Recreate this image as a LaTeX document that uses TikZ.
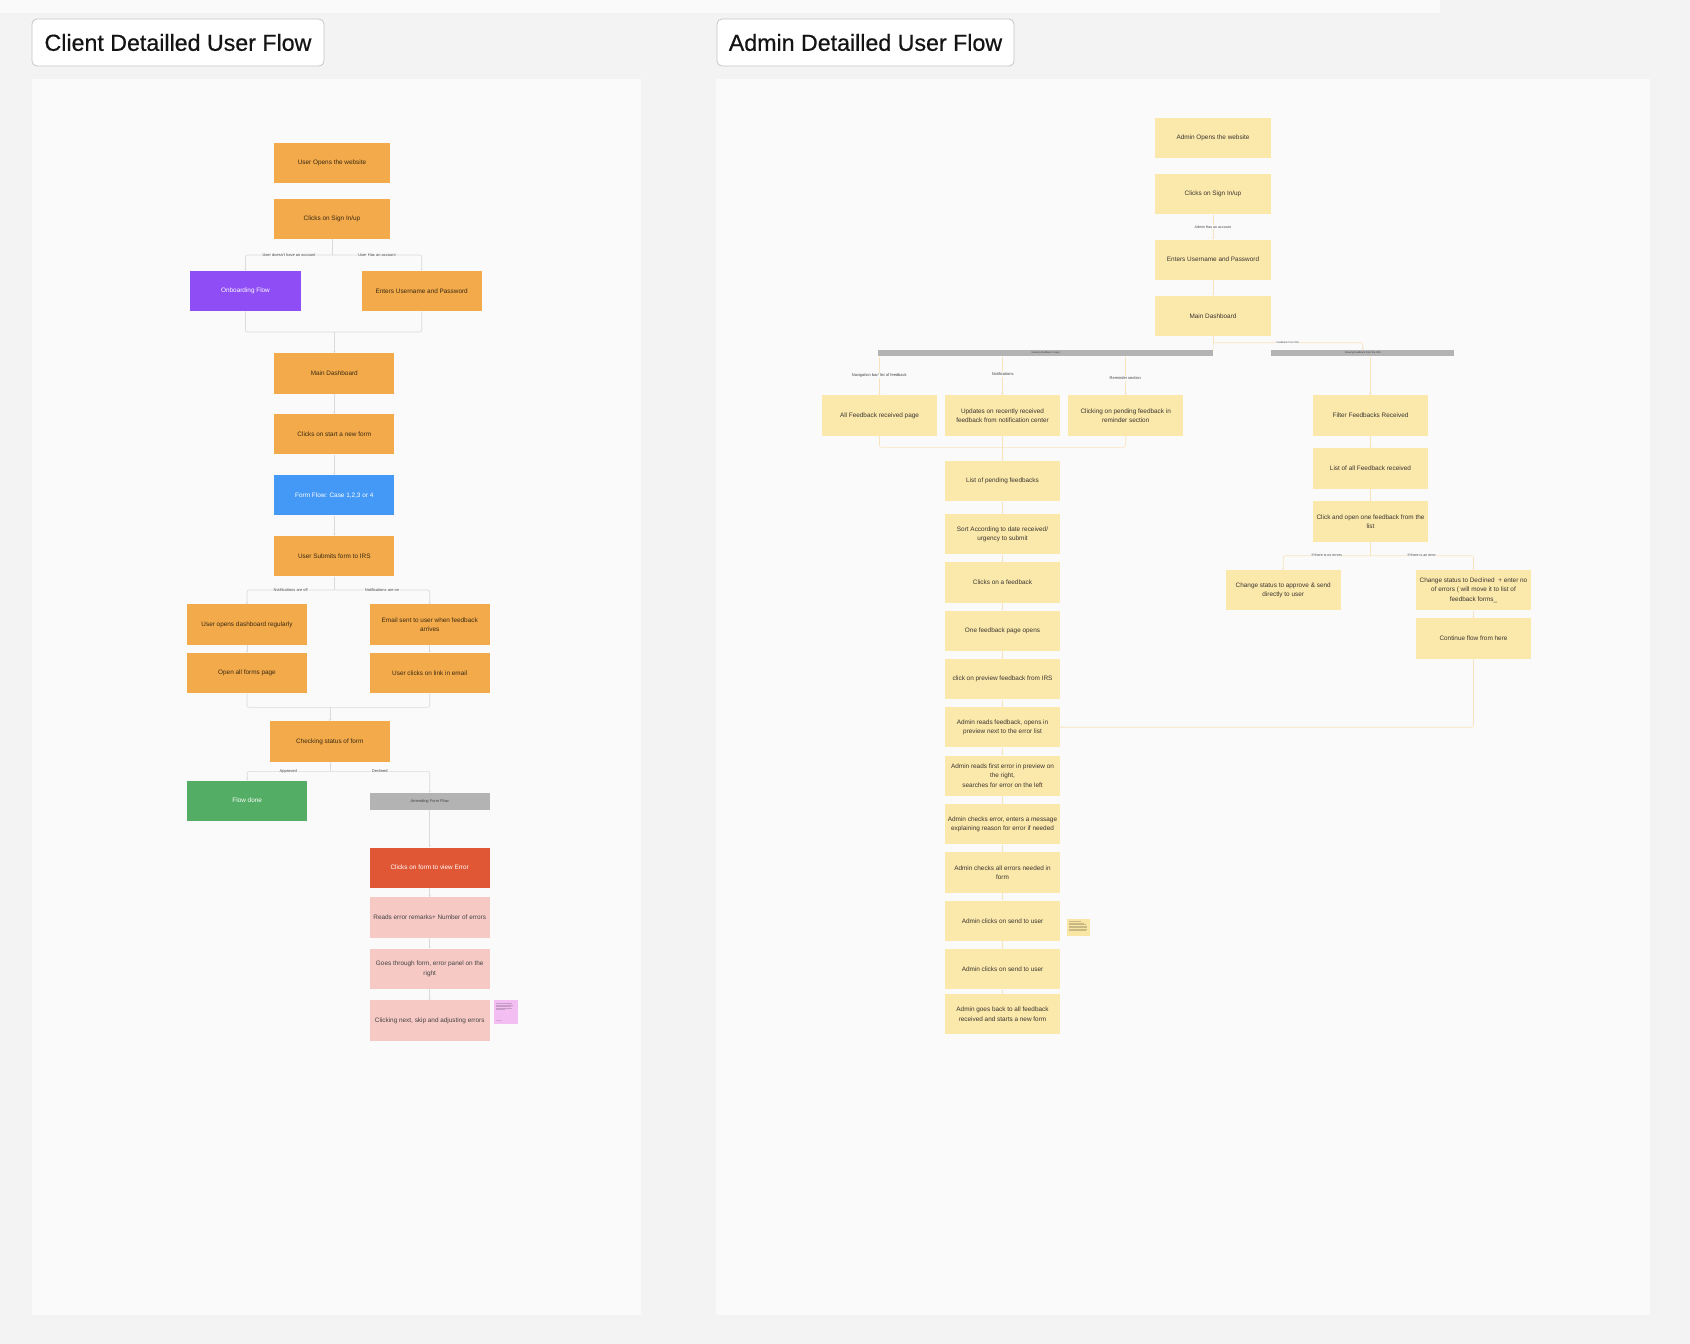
\documentclass[tikz,border=0pt]{standalone}
\usepackage{fontspec}
\setmainfont{Liberation Sans}
\newfontfamily\ttlfont[FakeBold=0.6]{Liberation Sans}
\usetikzlibrary{arrows.meta}
\definecolor{bgc}{HTML}{F3F3F3}
\definecolor{topc}{HTML}{FAFAFA}
\definecolor{panelc}{HTML}{FAFAFA}
\definecolor{corange}{HTML}{F2AA4B}
\definecolor{cpurple}{HTML}{8E4DF5}
\definecolor{cblue}{HTML}{4499F6}
\definecolor{cgreen}{HTML}{53AD64}
\definecolor{cred}{HTML}{E05735}
\definecolor{cpink}{HTML}{F6C9C4}
\definecolor{cgray}{HTML}{B3B3B3}
\definecolor{spink}{HTML}{F3BEF1}
\definecolor{ayel}{HTML}{FBE8AB}
\definecolor{syel}{HTML}{FAE6A4}
\definecolor{aline}{HTML}{F8E4BC}
\definecolor{cline}{HTML}{DADADA}
\definecolor{ctext}{HTML}{3A2A12}
\definecolor{atext}{HTML}{3A3630}
\definecolor{ltext}{HTML}{444444}
\definecolor{tborder}{HTML}{C6C6C6}
\tikzset{
  fbox/.style={rectangle, minimum width=115.4pt, minimum height=40.3pt, inner sep=1pt, align=center, font=\fontsize{6.4}{9.3}\selectfont},
  cbox/.style={fbox, fill=corange, text=ctext},
  wbox/.style={fbox, text=white},
  pbox/.style={fbox, fill=cpink, text=ltext, minimum width=120pt},
  abox/.style={fbox, fill=ayel, text=atext},
  conn/.style={draw=cline, line width=0.6pt, rounded corners=2pt},
  arr/.style={-{Stealth[length=2pt,width=2pt]}},
  aconn/.style={draw=aline, line width=0.6pt, rounded corners=2pt},
  blab/.style={font=\fontsize{4}{4.5}\selectfont, fill=panelc, inner sep=0.8pt, text=ltext},
  tlab/.style={font=\fontsize{2.6}{3}\selectfont, inner sep=0.5pt, text=ltext},
  bar/.style={rectangle, fill=cgray, inner sep=0pt, font=\fontsize{2.6}{3}\selectfont, text=black!75},
  titlebox/.style={rectangle, rounded corners=5pt, draw=tborder, line width=0.8pt, fill=white, font=\ttlfont\fontsize{23.2}{28}\selectfont, text=black!92, inner sep=0pt},
  stk/.style={line width=0.3pt}
}
\begin{document}
\begin{tikzpicture}[x=1pt,y=-1pt]
\useasboundingbox (0,0) rectangle (1690,1344);
\fill[bgc] (0,0) rectangle (1690,1344);
\fill[topc] (0,0) rectangle (1440,13);
% panels
\fill[panelc] (32,79) rectangle (641,1315);
\fill[panelc] (716,79) rectangle (1650,1315);
% titles
\node[titlebox, minimum width=292pt, minimum height=47pt] (tc) at (178,42.5) {Client Detailled User Flow};
\node[titlebox, minimum width=297pt, minimum height=47pt] (ta) at (865.5,42.5) {Admin Detailled User Flow};

% ---------------- CLIENT ----------------
\node[cbox] (c1) at (332,163) {User Opens the website};
\node[cbox] (c2) at (332,219) {Clicks on Sign In/up};
\node[wbox, fill=cpurple, minimum width=110.4pt] (onb) at (245.5,291) {Onboarding Flow};
\node[cbox, minimum width=120pt] (cent) at (421.7,291) {Enters Username and Password};
\node[cbox, minimum width=120pt] (cmain) at (334.3,373.5) {Main Dashboard};
\node[cbox, minimum width=120pt] (cnew) at (334.3,434.3) {Clicks on start a new form};
\node[wbox, fill=cblue, minimum width=120pt] (cform) at (334.3,495.2) {Form Flow: Case 1,2,3 or 4};
\node[cbox, minimum width=120pt] (csub) at (334.3,556.2) {User Submits form to IRS};
\node[cbox, minimum width=120pt] (cdash) at (247,624.5) {User opens dashboard regularly};
\node[cbox, minimum width=120pt] (cemail) at (429.7,624.5) {Email sent to user when feedback\\arrives};
\node[cbox, minimum width=120pt] (cforms) at (247,672.9) {Open all forms page};
\node[cbox, minimum width=120pt] (clink) at (429.7,672.9) {User clicks on link in email};
\node[cbox, minimum width=120pt] (cstat) at (329.8,741.5) {Checking status of form};
\node[wbox, fill=cgreen, minimum width=120pt] (cdone) at (247.2,800.7) {Flow done};
\node[bar, minimum width=120pt, minimum height=17pt, font=\fontsize{4}{4.5}\selectfont] (camend) at (429.7,801.5) {Amending Form Flow};
\node[wbox, fill=cred, minimum width=120pt] (cerr) at (429.7,867.7) {Clicks on form to view Error};
\node[pbox] (cread) at (429.7,917.5) {Reads error remarks+ Number of errors};
\node[pbox] (cgoes) at (429.7,968.8) {Goes through form, error panel on the\\right};
\node[pbox] (cclick) at (429.7,1020.5) {Clicking next, skip and adjusting errors};
% pink sticky
\fill[spink] (494.3,1000.3) rectangle (517.7,1024);
\foreach \yy/\ww in {1003.5/16,1005/17,1006.5/15,1008/16,1009.5/9} \draw[stk, draw=black!18!spink] (496,\yy) -- ++(\ww,0);
\draw[stk, draw=black!12!spink] (496,1020.5) -- ++(6,0);

% client connectors
\coordinate (cb1) at (332,255);
\draw[conn] (c2.south) -- (cb1);
\draw[conn, arr] (cb1) -| (onb.north);
\draw[conn, arr] (cb1) -| (cent.north);
\node[blab] (lb1) at (289,255) {User doesn't have an account};
\node[blab] (lb2) at (377,255) {User Has an account};
\coordinate (cm1) at (334.3,332);
\draw[conn] (onb.south) |- (cm1);
\draw[conn] (cent.south) |- (cm1);
\draw[conn, arr] (cm1) -- (cmain.north);
\draw[conn, arr] (cmain) -- (cnew);
\draw[conn, arr] (cnew) -- (cform);
\draw[conn, arr] (cform) -- (csub);
\coordinate (cb2) at (334.3,590);
\draw[conn] (csub.south) -- (cb2);
\draw[conn, arr] (cb2) -| (cdash.north);
\draw[conn, arr] (cb2) -| (cemail.north);
\node[blab] (lb3) at (290.7,590) {Notifications are off};
\node[blab] (lb4) at (382,590) {Notifications are on};
\draw[conn, arr] (cdash) -- (cforms);
\draw[conn, arr] (cemail) -- (clink);
\coordinate (cm2) at (329.8,707.3);
\draw[conn] (cforms.south) |- (cm2);
\draw[conn] (clink.south) |- (cm2);
\draw[conn, arr] (cm2) -- (cstat.north);
\coordinate (cb3) at (329.8,771.3);
\draw[conn] (cstat.south) -- (cb3);
\draw[conn, arr] (cb3) -| (cdone.north);
\draw[conn, arr] (cb3) -| (camend.north);
\node[blab] (lb5) at (288.3,771.3) {Approved};
\node[blab] (lb6) at (379.7,771.3) {Declined};
\draw[conn, arr] (camend) -- (cerr);
\draw[conn, arr] (cerr) -- (cread);
\draw[conn, arr] (cread) -- (cgoes);
\draw[conn, arr] (cgoes) -- (cclick);

% ---------------- ADMIN ----------------
\node[abox] (a1) at (1213,138.2) {Admin Opens the website};
\node[abox] (a2) at (1213,194.3) {Clicks on Sign In/up};
\node[abox] (a3) at (1213,259.7) {Enters Username and Password};
\node[abox] (a4) at (1213,316) {Main Dashboard};
\node[bar, minimum width=335pt, minimum height=6pt] (bar1) at (1045.5,353.3) {Viewing feedback in app};
\node[bar, minimum width=183.3pt, minimum height=6pt] (bar2) at (1362.7,353.3) {Viewing feedback from the IRS};
\node[abox] (a5) at (879.5,415.5) {All Feedback received page};
\node[abox] (a6) at (1002.5,415.5) {Updates on recently received\\feedback from notification center};
\node[abox] (a7) at (1125.7,415.5) {Clicking on pending feedback in\\reminder section};
\node[abox] (a8) at (1002.5,481.2) {List of pending feedbacks};
\node[abox] (a9) at (1002.5,534.2) {Sort According to date received/\\urgency to submit};
\node[abox] (a10) at (1002.5,582.5) {Clicks on a feedback};
\node[abox] (a11) at (1002.5,630.8) {One feedback page opens};
\node[abox] (a12) at (1002.5,679.2) {click on preview feedback from IRS};
\node[abox] (a13) at (1002.5,727.2) {Admin reads feedback, opens in\\preview next to the error list};
\node[abox] (a14) at (1002.5,775.7) {Admin reads first error in preview on\\the right,\\searches for error on the left};
\node[abox] (a15) at (1002.5,824.2) {Admin checks error, enters a message\\explaining reason for error if needed};
\node[abox] (a16) at (1002.5,872.5) {Admin checks all errors needed in\\form};
\node[abox] (a17) at (1002.5,920.8) {Admin clicks on send to user};
\node[abox] (a18) at (1002.5,969.2) {Admin clicks on send to user};
\node[abox] (a19) at (1002.5,1014.2) {Admin goes back to all feedback\\received and starts a new form};
\node[abox] (a20) at (1370.5,415.5) {Filter Feedbacks Received};
\node[abox] (a21) at (1370.5,468.5) {List of all Feedback received};
\node[abox] (a22) at (1370.5,521.5) {Click and open one feedback from the\\list};
\node[abox] (a23) at (1283.2,590.2) {Change status to approve \& send\\directly to user};
\node[abox] (a24) at (1473.5,590.2) {Change status to Declined~ + enter no\\of errors ( will move it to list of\\feedback forms\_};
\node[abox] (a25) at (1473.5,638.5) {Continue flow from here};
% yellow sticky
\fill[syel] (1066.7,919) rectangle (1090,936.3);
\foreach \yy/\ww in {921.5/12,923/15,924.5/17,926/18,927.5/18,929/18,930.5/17} \draw[stk, draw=black!20!syel] (1069,\yy) -- ++(\ww,0);

% admin connectors
\draw[aconn, arr] (a2) -- (a3);
\node[tlab, fill=panelc, font=\fontsize{3.6}{4}\selectfont] (la1) at (1212.7,227.3) {Admin Has an account};
\draw[aconn, arr] (a3) -- (a4);
\coordinate (ab) at (1213,342.7);
\draw[aconn] (a4.south) -- (ab);
\draw[aconn] (ab) -- (bar1.north east);
\draw[aconn, arr] (ab) -| (bar2.north);
\node[tlab, fill=panelc] (la2) at (1287.7,342.7) {Feedback from IRS};
\draw[aconn, arr] (a5.north |- bar1.south) -- (a5.north);
\draw[aconn, arr] (a6.north |- bar1.south) -- (a6.north);
\draw[aconn, arr] (a7.north |- bar1.south) -- (a7.north);
\node[blab, fill=panelc] (la3) at (879.3,375.3) {Navigation bar/ list of feedback};
\node[blab, fill=panelc] (la4) at (1002.7,374.3) {Notifications};
\node[blab, fill=panelc] (la5) at (1125.3,378.3) {Reminder section};
\coordinate (am1) at (1002.5,447.3);
\draw[aconn] (a5.south) |- (am1);
\draw[aconn] (a7.south) |- (am1);
\draw[aconn, arr] (a6.south) -- (a8.north);
\draw[aconn, arr] (a8) -- (a9);
\draw[aconn, arr] (a9) -- (a10);
\draw[aconn, arr] (a10) -- (a11);
\draw[aconn, arr] (a11) -- (a12);
\draw[aconn, arr] (a12) -- (a13);
\draw[aconn, arr] (a13) -- (a14);
\draw[aconn, arr] (a14) -- (a15);
\draw[aconn, arr] (a15) -- (a16);
\draw[aconn, arr] (a16) -- (a17);
\draw[aconn, arr] (a17) -- (a18);
\draw[aconn, arr] (a18) -- (a19);
\draw[aconn, arr] (a20.north |- bar2.south) -- (a20.north);
\draw[aconn, arr] (a20) -- (a21);
\draw[aconn, arr] (a21) -- (a22);
\coordinate (ab2) at (1370.5,555.7);
\draw[aconn] (a22.south) -- (ab2);
\draw[aconn, arr] (ab2) -| (a23.north);
\draw[aconn, arr] (ab2) -| (a24.north);
\node[tlab, fill=panelc, font=\fontsize{3.6}{4}\selectfont] (la6) at (1326.7,555.7) {If there is no errors};
\node[tlab, fill=panelc, font=\fontsize{3.6}{4}\selectfont] (la7) at (1421.7,555.7) {If there is an error};
\draw[aconn, arr] (a24) -- (a25);
\draw[aconn, arr] (a25.south) |- (a13.east);
\end{tikzpicture}
\end{document}
